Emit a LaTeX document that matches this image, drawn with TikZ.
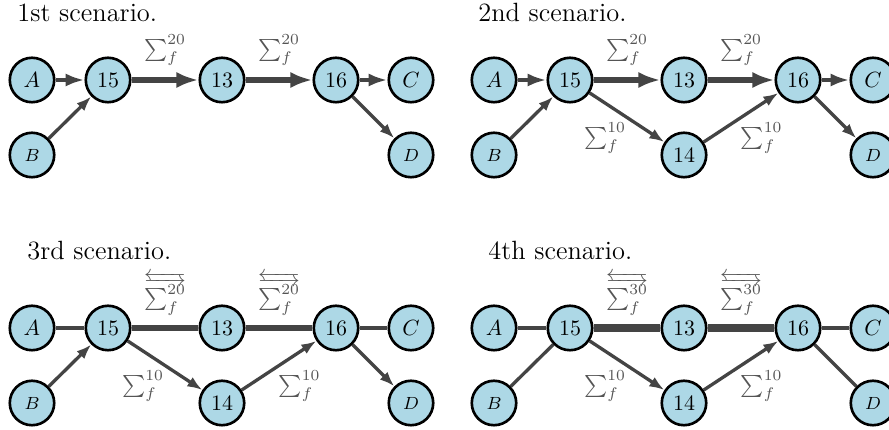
\documentclass[tikz,border=0pt]{standalone}
\usetikzlibrary{arrows.meta,calc}
\definecolor{nodefill}{RGB}{173,216,230}
\definecolor{edgegray}{RGB}{68,68,68}
\definecolor{labelgray}{RGB}{85,85,85}

% flow labels on the edges
\newcommand{\flowsum}[1]{$\sum_f^{#1}$}
\newcommand{\bidisum}[1]{$\overleftarrow{\overrightarrow{\textstyle\sum\nolimits_f^{#1}}}$}

\tikzset{
  vtx/.style={circle, draw=black, line width=1.2pt, fill=nodefill,
    minimum size=20.2pt, inner sep=0pt, font=\normalsize},
  smallvtx/.style={vtx, font=\footnotesize},
  caption/.style={anchor=base west, inner sep=0pt, font=\large},
  lab/.style={text=labelgray, inner sep=0pt},
  edge/.style={draw=edgegray},
  linethin/.style={edge, line width=1.5pt},
  linemed/.style={edge, line width=2pt},
  linethick/.style={edge, line width=2.6pt},
  lineheavy/.style={edge, line width=3.6pt},
  arrthin/.style={linethin, -{Latex[length=6.8pt,width=5pt]}},
  arrmed/.style={linemed, -{Latex[length=8.6pt,width=6pt]}},
  arrthick/.style={linethick, -{Latex[length=10pt,width=7.3pt]}},
}

% the routers shared by every scenario, suffixed by #1
\newcommand{\routers}[1]{%
  \node[vtx] (A#1) at (32,80) {$A$};
  \node[vtx] (r15#1) at (108,80) {15};
  \node[vtx] (r13#1) at (222,80) {13};
  \node[vtx] (r16#1) at (336,80) {16};
  \node[vtx] (C#1) at (411,80) {$C$};
  \node[smallvtx] (B#1) at (32,155) {$B$};
  \node[smallvtx] (D#1) at (411,155) {$D$};
}

\begin{document}
\begin{tikzpicture}[x=0.4545pt, y=-0.4545pt]
\useasboundingbox (0,0) rectangle (889,430);
\clip (0,0) rectangle (889,430);

% ---------- 1st scenario ----------
\node[caption] (t1) at (17,21.7) {1st scenario.};
\routers{a}
\draw[arrmed] (Aa) -- (r15a);
\draw[arrthin] (Ba) -- (r15a);
\draw[arrthick] (r15a) -- node[lab, yshift=13.6pt] (la1) {\flowsum{20}} (r13a);
\draw[arrthick] (r13a) -- node[lab, yshift=13.6pt] (la2) {\flowsum{20}} (r16a);
\draw[arrmed] (r16a) -- (Ca);
\draw[arrthin] (r16a) -- (Da);

% ---------- 2nd scenario ----------
\node[caption] (t2) at (478,21.7) {2nd scenario.};
\begin{scope}[shift={(462,0)}]
  \routers{b}
  \node[vtx] (r14b) at (222,155) {14};
\end{scope}
\draw[arrmed] (Ab) -- (r15b);
\draw[arrthin] (Bb) -- (r15b);
\draw[arrthick] (r15b) -- node[lab, yshift=13.6pt] (lb1) {\flowsum{20}} (r13b);
\draw[arrthick] (r13b) -- node[lab, yshift=13.6pt] (lb2) {\flowsum{20}} (r16b);
\draw[arrthin] (r15b) -- node[lab, xshift=-10pt, yshift=-9.3pt] (lb3) {\flowsum{10}} (r14b);
\draw[arrthin] (r14b) -- node[lab, xshift=9.3pt, yshift=-9.3pt] (lb4) {\flowsum{10}} (r16b);
\draw[arrmed] (r16b) -- (Cb);
\draw[arrthin] (r16b) -- (Db);

% ---------- 3rd scenario ----------
\node[caption] (t3) at (27,259.3) {3rd scenario.};
\begin{scope}[shift={(0,248)}]
  \routers{c}
  \node[vtx] (r14c) at (222,155) {14};
\end{scope}
\draw[linethin] (Ac) -- (r15c);
\draw[arrthin] (Bc) -- (r15c);
\draw[linethick] (r15c) -- node[lab, yshift=15.5pt] (lc1) {\bidisum{20}} (r13c);
\draw[linethick] (r13c) -- node[lab, yshift=15.5pt] (lc2) {\bidisum{20}} (r16c);
\draw[arrthin] (r15c) -- node[lab, xshift=-10pt, yshift=-9.3pt] (lc3) {\flowsum{10}} (r14c);
\draw[arrthin] (r14c) -- node[lab, xshift=9.3pt, yshift=-9.3pt] (lc4) {\flowsum{10}} (r16c);
\draw[linemed] (r16c) -- (Cc);
\draw[arrthin] (r16c) -- (Dc);

% ---------- 4th scenario ----------
\node[caption] (t4) at (488,259.3) {4th scenario.};
\begin{scope}[shift={(462,248)}]
  \routers{d}
  \node[vtx] (r14d) at (222,155) {14};
\end{scope}
\draw[linemed] (Ad) -- (r15d);
\draw[linethin] (Bd) -- (r15d);
\draw[lineheavy] (r15d) -- node[lab, yshift=15.5pt] (ld1) {\bidisum{30}} (r13d);
\draw[lineheavy] (r13d) -- node[lab, yshift=15.5pt] (ld2) {\bidisum{30}} (r16d);
\draw[arrthin] (r15d) -- node[lab, xshift=-10pt, yshift=-9.3pt] (ld3) {\flowsum{10}} (r14d);
\draw[arrthin] (r14d) -- node[lab, xshift=9.3pt, yshift=-9.3pt] (ld4) {\flowsum{10}} (r16d);
\draw[linemed] (r16d) -- (Cd);
\draw[linethin] (r16d) -- (Dd);
\end{tikzpicture}
\end{document}
